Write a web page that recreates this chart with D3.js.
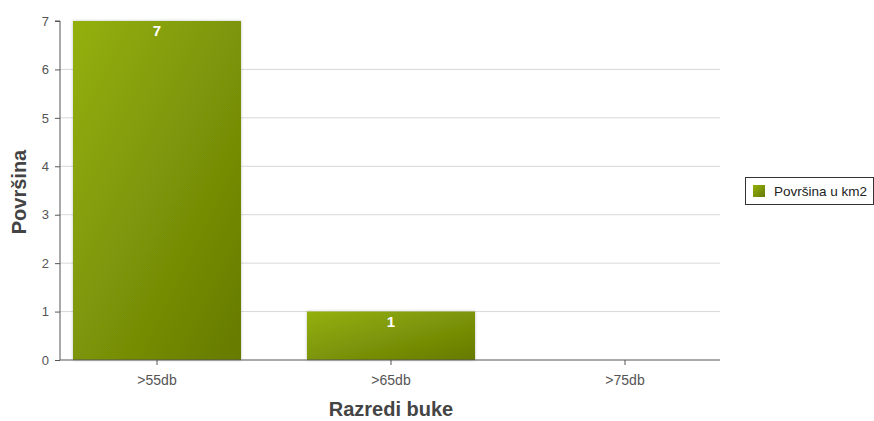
<!DOCTYPE html>
<html><head><meta charset="utf-8">
<script src="https://cdn.jsdelivr.net/npm/d3@7"></script>
<style>body{margin:0;background:#fff}svg{font-family:Arial,"Liberation Sans",sans-serif}</style>
</head><body>
<svg id="c" width="874" height="421"></svg>
<script>
const categories = [">55db", ">65db", ">75db"];
const values = [7, 1, 0];
const yTicks = [0, 1, 2, 3, 4, 5, 6, 7];
const seriesName = "Površina u km2";

(function(){
const svg = d3.select("#c");
const mL = 60, mR = 720, mT = 21, mB = 360;
const x = d3.scaleBand().domain(categories).range([40, 742]).paddingInner(0.28).paddingOuter(0.14);
const y = d3.scaleLinear().domain([0, 7]).range([mB, mT]);
const FF = "Arial,'Liberation Sans',sans-serif";

const defs = svg.append("defs");
const g = defs.append("linearGradient").attr("id", "gr").attr("x1", "0").attr("y1", "0").attr("x2", "1").attr("y2", "1");
g.append("stop").attr("offset", "0").attr("stop-color", "#93b00a");
g.append("stop").attr("offset", "1").attr("stop-color", "#667a04");
const f = defs.append("filter").attr("id", "sh").attr("x", "-10%").attr("y", "-10%").attr("width", "120%").attr("height", "120%");
f.append("feDropShadow").attr("dx", 0).attr("dy", 0).attr("stdDeviation", 1.5).attr("flood-color", "#000").attr("flood-opacity", 0.25);

const data = values.map((v, i) => ({c: categories[i], v}));

// grid
svg.append("g").selectAll("line").data(yTicks.filter(d => d > 0 && d < 7)).join("line")
  .attr("x1", mL).attr("x2", mR).attr("y1", d => y(d)).attr("y2", d => y(d))
  .attr("stroke", "#d8d8d8").attr("stroke-width", 1);

// bars
svg.append("g").selectAll("rect").data(data.filter(d => d.v > 0)).join("rect")
  .attr("x", d => x(d.c) + (x.bandwidth() - 168) / 2)
  .attr("width", 168)
  .attr("y", d => y(d.v)).attr("height", d => y(0) - y(d.v))
  .attr("fill", "url(#gr)").attr("filter", "url(#sh)");

// labels
svg.append("g").selectAll("text").data(data.filter(d => d.v > 0)).join("text")
  .attr("x", d => x(d.c) + x.bandwidth() / 2).attr("y", d => y(d.v) + 15)
  .attr("text-anchor", "middle").attr("fill", "#fff").attr("font-weight", "bold").attr("font-size", 15)
  .text(d => d.v);

// y axis
const ya = svg.append("g").attr("transform", `translate(${mL},0)`)
  .call(d3.axisLeft(y).tickValues(yTicks).tickSize(5).tickPadding(6).tickFormat(d3.format("d")));
ya.select(".domain").attr("stroke", "#555").attr("d", `M-5,${mT}H0V${mB}`);
ya.selectAll(".tick line").attr("stroke", "#555");
ya.selectAll("text").attr("fill", "#555").attr("font-size", 13).attr("font-family", FF);

// x axis
const xa = svg.append("g").attr("transform", `translate(0,${mB})`)
  .call(d3.axisBottom(x).tickSize(5).tickPadding(10));
xa.select(".domain").attr("stroke", "#555").attr("d", `M${mL},0H${mR}`);
xa.selectAll(".tick line").attr("stroke", "#555");
xa.selectAll("text").attr("fill", "#555").attr("font-size", 14).attr("font-family", FF);

// titles
svg.append("text").attr("transform", "translate(26,192) rotate(-90)").attr("text-anchor", "middle")
  .attr("font-size", 20).attr("font-weight", "bold").attr("fill", "#444").text("Površina");
svg.append("text").attr("x", 391).attr("y", 416).attr("text-anchor", "middle")
  .attr("font-size", 20).attr("font-weight", "bold").attr("fill", "#444").text("Razredi buke");

// legend
const lg = svg.append("g").attr("transform", "translate(745,177)");
lg.append("rect").attr("x", 0.5).attr("y", 0.5).attr("width", 128).attr("height", 27).attr("fill", "#fff").attr("stroke", "#333");
lg.append("rect").attr("x", 8).attr("y", 8).attr("width", 12).attr("height", 12).attr("fill", "url(#gr)");
lg.append("text").attr("x", 29).attr("y", 19).attr("font-size", 13.5).attr("fill", "#222").text(seriesName);
})();
</script>
</body></html>
